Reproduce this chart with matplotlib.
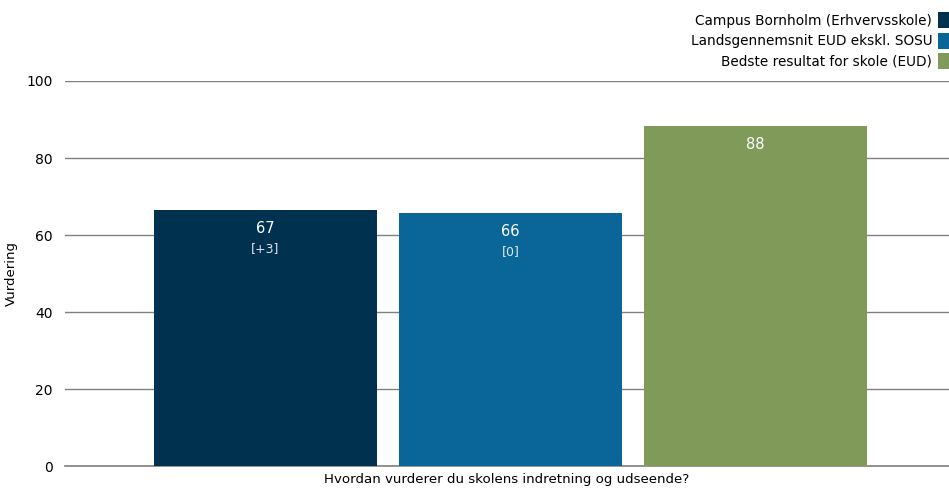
import matplotlib.pyplot as plt
from matplotlib.patches import Patch

series = ["Campus Bornholm (Erhvervsskole)", "Landsgennemsnit EUD ekskl. SOSU", "Bedste resultat for skole (EUD)"]
values = [66.6, 65.8, 88.3]
value_labels = ["67", "66", "88"]
diff_labels = ["[+3]", "[0]", ""]
colors = ["#00324f", "#0a6699", "#7f9a59"]
question = "Hvordan vurderer du skolens indretning og udseende?"

plt.rcParams["font.family"] = ["DejaVu Sans"]

fig = plt.figure(figsize=(9.49, 4.90), dpi=100)
ax = fig.add_axes([65 / 949, 24 / 490, 884 / 949, 385 / 490])

x = list(range(len(values)))
ax.bar(x, values, width=0.91, color=colors, zorder=2)

for xi, v, lab, d in zip(x, values, value_labels, diff_labels):
    ax.annotate(lab, (xi, v), xytext=(0, -8), textcoords="offset points",
                ha="center", va="top", color="white", fontsize=10.5, zorder=3)
    if d:
        ax.annotate(d, (xi, v), xytext=(0, -23), textcoords="offset points",
                    ha="center", va="top", color="#dde6ee", fontsize=9, zorder=3)

ax.set_xlim(-0.818, 2.79)
ax.set_ylim(0, 100)
ax.set_yticks([0, 20, 40, 60, 80, 100])
ax.yaxis.grid(True, color="#808080", linewidth=1, zorder=0)
ax.axhline(0, color="#808080", linewidth=1.2, clip_on=False, zorder=1)
ax.set_axisbelow(True)
ax.tick_params(axis="y", length=0, pad=9, labelsize=10)
ax.set_xticks([])
for s in ax.spines.values():
    s.set_visible(False)

ax.set_ylabel("Vurdering", fontsize=9.5)
ax.yaxis.set_label_coords(-47 / 884, 0.5)
ax.set_xlabel(question, fontsize=9.6, labelpad=5)

handles = [Patch(facecolor=c) for c in colors]
fig.legend(handles, series, loc="upper right",
           bbox_to_anchor=(1.0 + 7 / 949, 1.0 - 5 / 490),
           frameon=False, markerfirst=False, fontsize=9.8,
           handlelength=0.75, handleheight=1.4, handletextpad=0.45,
           labelspacing=0.35, borderaxespad=0.0, borderpad=0.55)

fig.savefig("out.png", dpi=100)
